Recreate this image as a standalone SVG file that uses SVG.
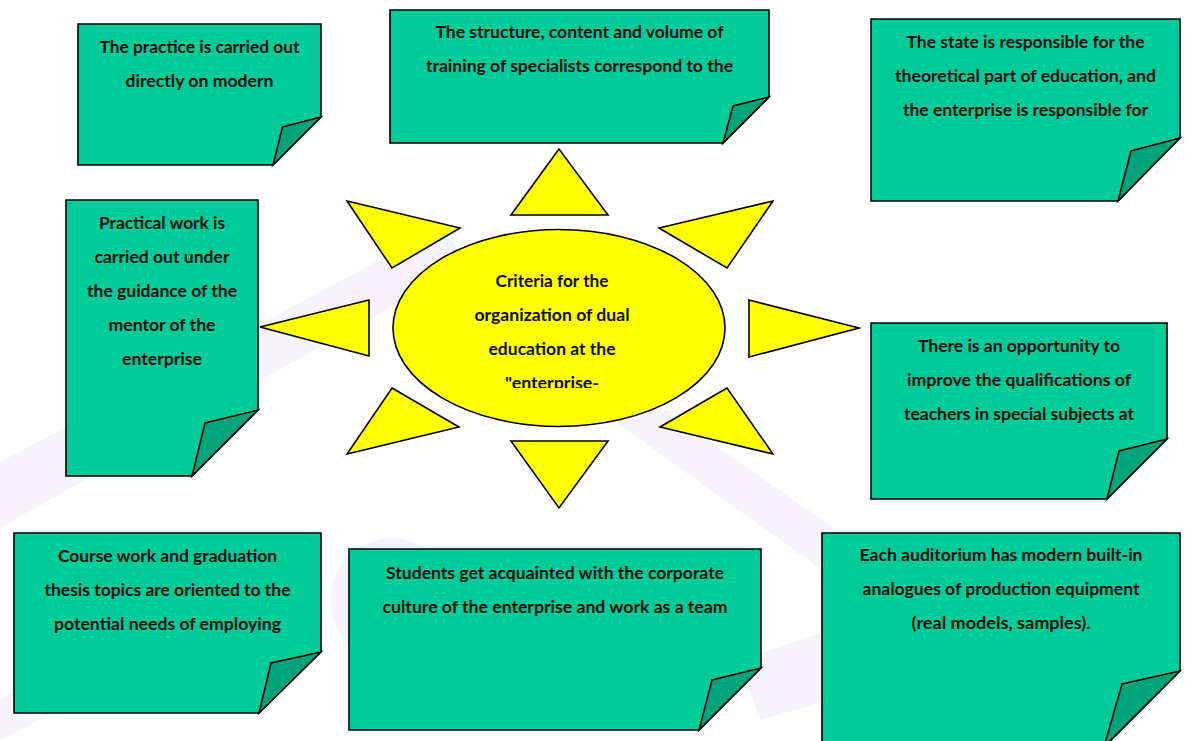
<svg xmlns="http://www.w3.org/2000/svg" width="1188" height="741" viewBox="0 0 1188 741">
  <style>
    .note { fill: #00cc99; stroke: #000; stroke-width: 1.6; stroke-linejoin: miter; }
    .fold { fill: #00a37a; stroke: #000; stroke-width: 1.6; stroke-linejoin: miter; }
    .ray { fill: #ffff00; stroke: #000; stroke-width: 1.6; stroke-linejoin: miter; }
    .sun { fill: #ffff00; stroke: #000; stroke-width: 1.6; }
    .lbl { font-family: Lato, "Open Sans", "Liberation Sans", sans-serif; font-weight: bold; font-size: 17.5px; fill: #0d0d0d; text-anchor: middle; }
    .wm { fill: #f6f3fa; }
  </style>
  <defs>
    <clipPath id="sun-text-clip">
      <rect x="390" y="230" width="340" height="158"/>
    </clipPath>
  </defs>

  <rect width="1188" height="741" fill="#ffffff"/>

  <!-- faint background watermark -->
  <g id="watermark">
    <polygon class="wm" points="0,462 440,228 470,262 0,528"/>
    <polygon class="wm" points="610,418 650,400 880,560 850,590"/>
    <circle class="wm" cx="392" cy="600" r="62"/>
    <polygon class="wm" points="0,700 120,630 150,660 0,741"/>
    <polygon class="wm" points="740,660 830,630 830,700 760,720"/>
  </g>

  <!-- central sun -->
  <g id="sun">
    <g id="sun-rays">
      <polygon class="ray" points="559,149 511,215 608,215"/>
      <polygon class="ray" points="511,441 608,441 559,508"/>
      <polygon class="ray" points="347,201 460,228 392,268"/>
      <polygon class="ray" points="773,201 659,228 727,268"/>
      <polygon class="ray" points="392,388 459,427 347,454"/>
      <polygon class="ray" points="727,388 660,427 773,454"/>
      <polygon class="ray" points="749,300 859,328 749,357"/>
      <polygon class="ray" points="260,327 369,300 369,356"/>
    </g>
    <ellipse class="sun" cx="559" cy="328" rx="166" ry="98.5"/>
    <g clip-path="url(#sun-text-clip)">
      <text class="lbl" x="552" y="287" textLength="113" lengthAdjust="spacingAndGlyphs">Criteria for the</text>
      <text class="lbl" x="552" y="321" textLength="155" lengthAdjust="spacingAndGlyphs">organization of dual</text>
      <text class="lbl" x="552" y="355" textLength="127" lengthAdjust="spacingAndGlyphs">education at the</text>
      <text class="lbl" x="552" y="389" textLength="94" lengthAdjust="spacingAndGlyphs">"enterprise-</text>
    </g>
  </g>

  <!-- sticky notes -->
  <g id="note-practice">
    <path class="note" d="M78,24 H321 V117 L273,165 H78 Z"/>
    <path class="fold" d="M321,117 L282.5,127 L273,165 Z"/>
    <text class="lbl" x="199.5" y="53" textLength="200" lengthAdjust="spacingAndGlyphs">The practice is carried out</text>
    <text class="lbl" x="199.5" y="87" textLength="148" lengthAdjust="spacingAndGlyphs">directly on modern</text>
  </g>

  <g id="note-structure">
    <path class="note" d="M390,10 H769 V97 L723,143 H390 Z"/>
    <path class="fold" d="M769,97 L733,106 L723,143 Z"/>
    <text class="lbl" x="579.5" y="38" textLength="288" lengthAdjust="spacingAndGlyphs">The structure, content and volume of</text>
    <text class="lbl" x="579.5" y="72" textLength="307" lengthAdjust="spacingAndGlyphs">training of specialists correspond to the</text>
  </g>

  <g id="note-state">
    <path class="note" d="M871,19 H1180 V138 L1118,201 H871 Z"/>
    <path class="fold" d="M1180,138 L1131,151 L1118,201 Z"/>
    <text class="lbl" x="1025.5" y="48" textLength="238" lengthAdjust="spacingAndGlyphs">The state is responsible for the</text>
    <text class="lbl" x="1025.5" y="82" textLength="261" lengthAdjust="spacingAndGlyphs">theoretical part of education, and</text>
    <text class="lbl" x="1025.5" y="116" textLength="245" lengthAdjust="spacingAndGlyphs">the enterprise is responsible for</text>
  </g>

  <g id="note-mentor">
    <path class="note" d="M66,200 H258 V410 L192,476 H66 Z"/>
    <path class="fold" d="M258,410 L205,423 L192,476 Z"/>
    <text class="lbl" x="162" y="229" textLength="126" lengthAdjust="spacingAndGlyphs">Practical work is</text>
    <text class="lbl" x="162" y="263" textLength="135" lengthAdjust="spacingAndGlyphs">carried out under</text>
    <text class="lbl" x="162" y="297" textLength="150" lengthAdjust="spacingAndGlyphs">the guidance of the</text>
    <text class="lbl" x="162" y="331" textLength="107" lengthAdjust="spacingAndGlyphs">mentor of the</text>
    <text class="lbl" x="162" y="365" textLength="80" lengthAdjust="spacingAndGlyphs">enterprise</text>
  </g>

  <g id="note-teachers">
    <path class="note" d="M871,323 H1167 V439 L1107,499 H871 Z"/>
    <path class="fold" d="M1167,439 L1119,451 L1107,499 Z"/>
    <text class="lbl" x="1019" y="352" textLength="202" lengthAdjust="spacingAndGlyphs">There is an opportunity to</text>
    <text class="lbl" x="1019" y="386" textLength="224" lengthAdjust="spacingAndGlyphs">improve the qualifications of</text>
    <text class="lbl" x="1019" y="420" textLength="230" lengthAdjust="spacingAndGlyphs">teachers in special subjects at</text>
  </g>

  <g id="note-thesis">
    <path class="note" d="M14,533 H321 V652 L259,713 H14 Z"/>
    <path class="fold" d="M321,652 L271,663 L259,713 Z"/>
    <text class="lbl" x="167.5" y="562" textLength="219" lengthAdjust="spacingAndGlyphs">Course work and graduation</text>
    <text class="lbl" x="167.5" y="596" textLength="246" lengthAdjust="spacingAndGlyphs">thesis topics are oriented to the</text>
    <text class="lbl" x="167.5" y="630" textLength="227" lengthAdjust="spacingAndGlyphs">potential needs of employing</text>
  </g>

  <g id="note-culture">
    <path class="note" d="M349,549 H761 V668 L699,730 H349 Z"/>
    <path class="fold" d="M761,668 L712,680 L699,730 Z"/>
    <text class="lbl" x="555" y="579" textLength="338" lengthAdjust="spacingAndGlyphs">Students get acquainted with the corporate</text>
    <text class="lbl" x="555" y="613" textLength="345" lengthAdjust="spacingAndGlyphs">culture of the enterprise and work as a team</text>
  </g>

  <g id="note-auditorium">
    <path class="note" d="M822,533 H1180 V671 L1104,747 H822 Z"/>
    <path class="fold" d="M1180,671 L1122,684 L1104,747 Z"/>
    <text class="lbl" x="1001" y="561" textLength="283" lengthAdjust="spacingAndGlyphs">Each auditorium has modern built-in</text>
    <text class="lbl" x="1001" y="595" textLength="277" lengthAdjust="spacingAndGlyphs">analogues of production equipment</text>
    <text class="lbl" x="1001" y="629" textLength="179" lengthAdjust="spacingAndGlyphs">(real models, samples).</text>
  </g>
</svg>
